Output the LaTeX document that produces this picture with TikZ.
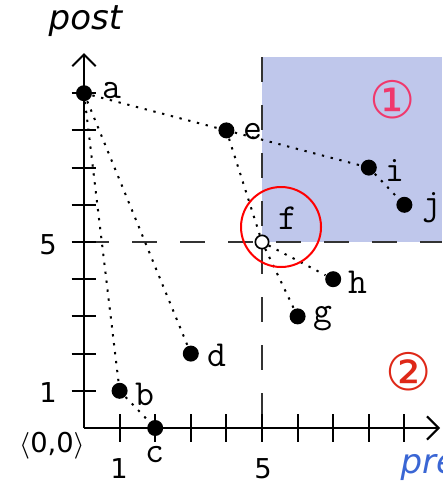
\documentclass[tikz,border=0pt]{standalone}
\usepackage{fontspec}
\newfontfamily\dejavu{DejaVu Sans}
\usetikzlibrary{arrows.meta}
\definecolor{regionblue}{RGB}{191,199,235}
\definecolor{circA}{RGB}{240,56,108}
\definecolor{circB}{RGB}{222,40,24}
\definecolor{preblue}{RGB}{58,102,212}
\begin{document}
\begin{tikzpicture}[x=10.68pt,y=11.16pt,
  pt/.style={circle,fill=black,inner sep=0pt,minimum size=4.8pt},
  openpt/.style={circle,draw=black,fill=white,line width=0.5pt,inner sep=0pt,minimum size=4pt},
  conn/.style={line width=0.6pt,dash pattern=on 0.7pt off 2pt},
  guide/.style={black!80,line width=0.75pt,dash pattern=on 7.6pt off 6.8pt},
  axis/.style={line width=0.6pt,-{Straight Barb[length=3.5pt,width=7pt]}},
  tickmark/.style={line width=0.6pt},
  lbl/.style={font=\fontsize{11}{13}\selectfont\ttfamily,inner sep=0pt,anchor=base west},
  num/.style={font=\dejavu\fontsize{8.2}{10}\selectfont,inner sep=0pt},
  axname/.style={font=\dejavu\itshape\fontsize{10.2}{12}\selectfont,inner sep=0pt,anchor=base west},
  circnum/.style={font=\dejavu\fontsize{15.5}{18}\selectfont,inner sep=0pt},
]
\useasboundingbox (-2.3596,-1.4516) rectangle (10.0843,11.5054);
% region 1
\fill[regionblue] (5,5) rectangle (10.06,9.97);
% guides
\draw[guide] (5,9.97) -- (5,0);
\draw[guide] (0,5) -- (10.06,5);
% axes
\coordinate (O) at (0,0);
\coordinate (xend) at (10,0);
\coordinate (yend) at (0,10.08);
\draw[axis] (O) -- (xend);
\draw[axis] (O) -- (yend);
\foreach \i in {1,...,9} {
  \draw[tickmark] (\i,-0.37) -- (\i,0.37);
  \draw[tickmark] (-0.35,\i) -- (0.35,\i);
}
% points
\node[pt] (a) at (0,9) {};
\node[pt] (b) at (1,1) {};
\node[pt] (c) at (2,0) {};
\node[pt] (d) at (3,2) {};
\node[pt] (e) at (4,8) {};
\node[openpt] (f) at (5,5) {};
\node[pt] (g) at (6,3) {};
\node[pt] (h) at (7,4) {};
\node[pt] (i) at (8,7) {};
\node[pt] (j) at (9,6) {};
% connectors
\draw[conn] (a) -- (e);
\draw[conn] (e) -- (i);
\draw[conn] (i) -- (j);
\draw[conn] (a) -- (b);
\draw[conn] (b) -- (c);
\draw[conn] (a) -- (d);
\draw[conn] (e) -- (f);
\draw[conn] (f) -- (g);
\draw[conn] (f) -- (h);
% point labels
\node[lbl] (la) at (0.506,8.87) {a};
\node[lbl] (lb) at (1.433,0.618) {b};
\node[lbl,anchor=base] (lc) at (1.994,-0.914) {c};
\node[lbl] (ld) at (3.455,1.640) {d};
\node[lbl] (le) at (4.466,7.742) {e};
\node[lbl] (lf) at (5.449,5.323) {f};
\node[lbl] (lg) at (6.433,2.823) {g};
\node[lbl] (lh) at (7.416,3.629) {h};
\node[lbl] (li) at (8.455,6.613) {i};
\node[lbl] (lj) at (9.494,5.726) {j};
% axis numbers
\node[num] (y1) at (-1.011,0.94) {1};
\node[num] (y5) at (-1.011,4.92) {5};
\node[num] (x1) at (0.983,-1.10) {1};
\node[num] (x5) at (5.03,-1.10) {5};
\node[num] (orig) at (-0.899,-0.484) {$\langle$0,0$\rangle$};
% axis names
\node[axname] (post) at (-1.011,10.70) {post};
\node[axname,text=preblue] (pre) at (8.876,-1.21) {pre};
% region numbers
\node[circnum,text=circA] (r1) at (8.68,8.817) {①};
\node[circnum,text=circB] (r2) at (9.129,1.505) {②};
% highlight
\node[draw=red,line width=0.6pt,circle,inner sep=0pt,minimum size=24pt] (sel) at (5.534,5.403) {};
\end{tikzpicture}
\end{document}
